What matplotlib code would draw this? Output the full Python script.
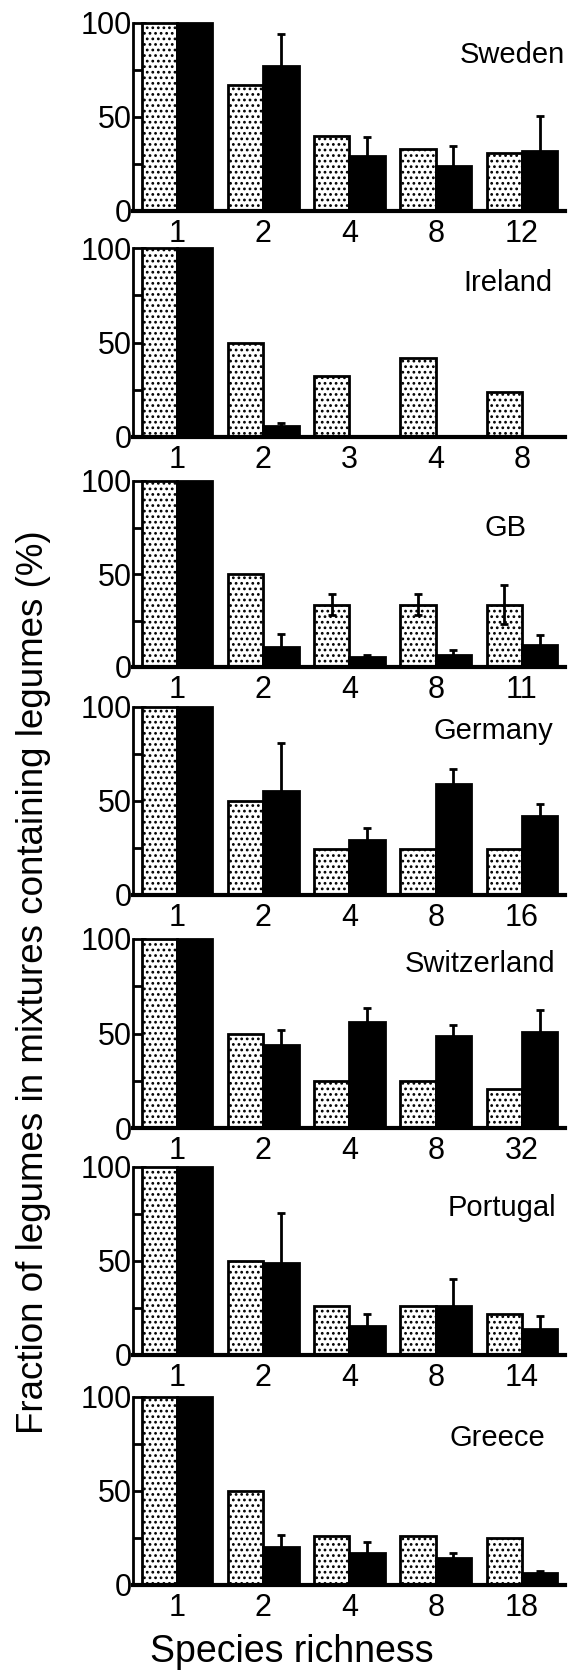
import matplotlib
matplotlib.use("Agg")
import matplotlib.pyplot as plt
import numpy as np

plt.rcParams['font.family'] = ['Liberation Sans', 'DejaVu Sans']
plt.rcParams['hatch.linewidth'] = 1.2

# data (percent)
countries = ["Sweden", "Ireland", "GB", "Germany", "Switzerland", "Portugal", "Greece"]

richness = [
    ["1", "2", "4", "8", "12"],
    ["1", "2", "3", "4", "8"],
    ["1", "2", "4", "8", "11"],
    ["1", "2", "4", "8", "16"],
    ["1", "2", "4", "8", "32"],
    ["1", "2", "4", "8", "14"],
    ["1", "2", "4", "8", "18"],
]

# stippled bars
sown = [
    [100, 67, 40, 33, 31],
    [100, 50, 32.5, 42, 24],
    [100, 50, 33.5, 33.5, 33.5],
    [100, 50, 24.5, 24.5, 24.5],
    [100, 50, 25, 25, 20.5],
    [100, 50, 26, 26, 22],
    [100, 50, 26, 26, 25],
]
sown_err = [
    [0, 0, 0, 0, 0],
    [0, 0, 0, 0, 0],
    [0, 0, 5.5, 5.5, 10.5],
    [0, 0, 0, 0, 0],
    [0, 0, 0, 0, 0],
    [0, 0, 0, 0, 0],
    [0, 0, 0, 0, 0],
]

# black bars
observed = [
    [100, 77, 29.5, 24, 32],
    [100, 6, 0, 0, 0],
    [100, 11, 5.4, 6.6, 12],
    [100, 55.5, 29, 59, 42],
    [100, 44, 56, 48.5, 51],
    [100, 49, 15.5, 26, 14],
    [100, 20, 17, 14.5, 6.5],
]
observed_err = [
    [0, 17, 10, 10.5, 18.5],
    [0, 1.5, 0, 0, 0],
    [0, 6.6, 1.3, 2.7, 5.3],
    [0, 25.5, 6.4, 8, 6.4],
    [0, 8, 7.6, 6.2, 11.6],
    [0, 26.5, 6.2, 14.5, 6.5],
    [0, 6.5, 6, 2.5, 1],
]

# layout (pixels in a 569 x 1672 canvas)
W, H = 569, 1672
panel_px = [(23, 211), (248, 437), (481, 667), (707, 895), (939, 1128), (1167, 1355), (1397, 1585)]
name_pos = [(1.0, 0.83), (0.97, 0.815), (0.912, 0.75), (0.972, 0.87),
            (0.977, 0.87), (0.979, 0.78), (0.954, 0.78)]
left_px, right_px = 133, 565
bw = 0.41

fig = plt.figure(figsize=(W / 100, H / 100), dpi=100)

for k, name in enumerate(countries):
    top, bot = panel_px[k]
    ax = fig.add_axes([left_px / W, 1 - bot / H, (right_px - left_px) / W, (bot - top) / H])
    x = np.arange(len(richness[k]))

    ax.bar(x - bw / 2, sown[k], bw, color="white", edgecolor="black",
           hatch="...", linewidth=2, clip_on=False, zorder=2)
    ax.bar(x + bw / 2, observed[k], bw, color="black", edgecolor="black",
           linewidth=2, clip_on=False, zorder=2)

    se = np.array(sown_err[k])
    m = se > 0
    if m.any():
        ax.errorbar((x - bw / 2)[m], np.array(sown[k])[m], yerr=se[m], fmt="none",
                    ecolor="black", elinewidth=2, capsize=3, capthick=2, zorder=3)
    oe = np.array(observed_err[k])
    m = oe > 0
    if m.any():
        ax.errorbar((x + bw / 2)[m], np.array(observed[k])[m], yerr=oe[m], fmt="none",
                    ecolor="black", elinewidth=2, capsize=3, capthick=2, zorder=3)

    ax.set_xlim(-0.51, 4.5)
    ax.set_ylim(0, 100)
    ax.set_xticks(x)
    ax.set_xticklabels(richness[k])
    ax.set_yticks([0, 50, 100])
    ax.set_yticks([25, 75], minor=True)
    ax.tick_params(axis="y", which="both", direction="in", length=9, width=2,
                   pad=1, labelsize=22)
    ax.tick_params(axis="x", length=0, pad=6, labelsize=22)

    for s in ["top", "right"]:
        ax.spines[s].set_visible(False)
    ax.spines["left"].set_linewidth(2)
    ax.spines["bottom"].set_linewidth(3)
    ax.patch.set_alpha(0)

    ax.text(name_pos[k][0], name_pos[k][1], name, transform=ax.transAxes,
            ha="right", va="center", fontsize=21)

fig.text(34 / W, 1 - 982 / H, "Fraction of legumes in mixtures containing legumes (%)",
         rotation=90, ha="center", va="center", fontsize=26.5)
fig.text(292 / W, 1 - 1652 / H, "Species richness", ha="center", va="center", fontsize=27)

fig.savefig("out.png", dpi=100)
